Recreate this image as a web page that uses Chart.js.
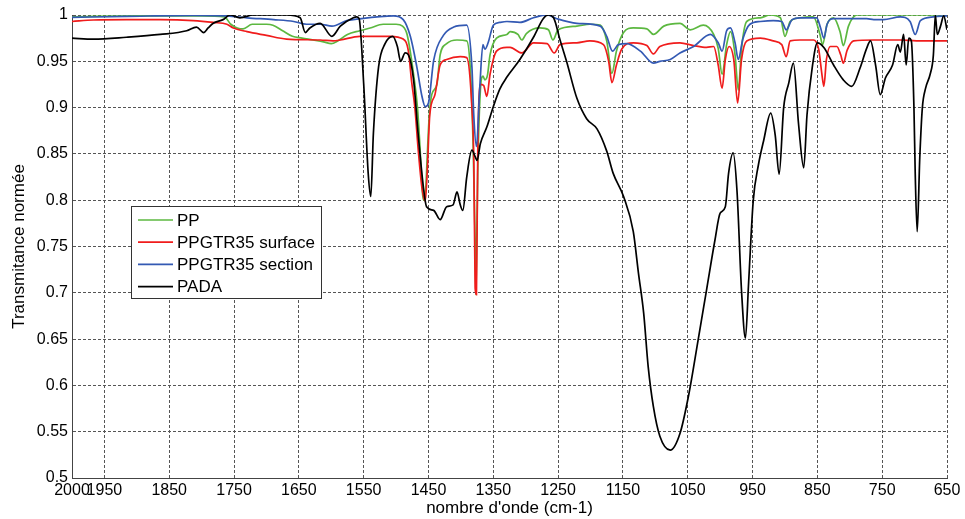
<!DOCTYPE html>
<html>
<head>
<meta charset="utf-8">
<script src="https://cdn.jsdelivr.net/npm/chart.js@4.4.1/dist/chart.umd.min.js"></script>
<style>
  html, body { margin: 0; padding: 0; background: #fff; }
</style>
</head>
<body>
<canvas id="spectre" width="965" height="519"></canvas>
<script>
// valeurs (nombre d'onde en cm-1, transmittance normee)
const ppWn = [2000,1900,1800,1765,1755,1745,1736,1722,1700,1690,1675,1660,1645,1628,1612,1600,1590,1575,1556,1540,1520,1500,1490,1483,1473,1467,1463,1459,1457,1454,1452,1449,1445,1437,1432,1422,1406,1391,1385,1381,1378,1377,1376,1374,1370,1366,1363,1359,1355,1345,1329,1324,1312,1306,1299,1278,1265,1258,1250,1221,1201,1185,1175,1167,1160,1149,1134,1113,1103,1087,1062,1046,1026,1010,1003,997,990,984,977,972,967,959,938,923,907,900,892,877,856,846,842,835,825,815,810,802,789,650];
const ppT = [0.998,0.999,0.999,0.998,0.990,0.986,0.985,0.990,0.990,0.989,0.983,0.977,0.975,0.973,0.971,0.969,0.972,0.979,0.983,0.986,0.990,0.990,0.988,0.979,0.936,0.900,0.856,0.806,0.800,0.815,0.846,0.889,0.914,0.925,0.957,0.969,0.973,0.972,0.936,0.856,0.756,0.698,0.730,0.830,0.918,0.934,0.930,0.935,0.957,0.975,0.979,0.982,0.979,0.973,0.980,0.986,0.984,0.973,0.984,0.988,0.990,0.989,0.972,0.937,0.961,0.981,0.986,0.985,0.979,0.988,0.991,0.984,0.989,0.979,0.964,0.936,0.968,0.982,0.957,0.919,0.964,0.993,0.997,1.0,0.997,0.977,0.993,0.997,0.998,0.979,0.968,0.990,0.997,0.982,0.967,0.988,1.0,1.0];

const surfWn = [2000,1967,1916,1864,1813,1782,1761,1751,1730,1700,1669,1617,1597,1586,1556,1509,1489,1481,1476,1471,1466,1460,1455,1452,1448,1440,1432,1422,1401,1391,1383,1380,1378,1376,1374,1370,1365,1360,1355,1345,1329,1324,1306,1288,1267,1256,1247,1221,1201,1180,1172,1167,1160,1152,1134,1113,1103,1093,1062,1041,1021,1010,1003,997,992,986,979,973,967,959,938,918,905,898,892,877,856,848,843,840,836,830,820,814,810,804,794,763,722,697,650];
const surfT = [0.993,0.9946,0.995,0.995,0.994,0.992,0.990,0.986,0.982,0.978,0.974,0.973,0.972,0.973,0.977,0.977,0.974,0.961,0.928,0.900,0.856,0.813,0.799,0.830,0.892,0.914,0.946,0.952,0.955,0.954,0.900,0.840,0.705,0.698,0.850,0.925,0.924,0.912,0.936,0.961,0.965,0.965,0.959,0.970,0.969,0.959,0.968,0.970,0.972,0.968,0.950,0.927,0.946,0.963,0.970,0.967,0.958,0.966,0.970,0.967,0.965,0.966,0.946,0.921,0.952,0.966,0.952,0.905,0.952,0.972,0.975,0.972,0.968,0.955,0.972,0.973,0.973,0.963,0.936,0.923,0.952,0.966,0.966,0.957,0.948,0.962,0.972,0.973,0.973,0.972,0.972];

const sectWn = [2000,1916,1813,1761,1730,1689,1658,1638,1617,1599,1576,1566,1504,1489,1478,1468,1460,1455,1450,1442,1427,1411,1391,1383,1380,1376,1371,1366,1363,1358,1350,1340,1329,1309,1288,1267,1252,1221,1185,1175,1166,1157,1144,1123,1103,1093,1077,1062,1041,1015,1003,997,990,984,977,972,965,954,938,918,905,898,889,877,851,845,840,835,825,774,763,748,722,707,699,691,671,650];
const sectT = [0.9975,0.9985,0.9996,0.999,0.997,0.995,0.993,0.990,0.990,0.988,0.994,0.995,0.999,0.995,0.977,0.944,0.912,0.901,0.905,0.951,0.978,0.987,0.989,0.944,0.890,0.858,0.920,0.968,0.963,0.970,0.989,0.992,0.993,0.992,0.997,1.0,0.996,0.991,0.988,0.977,0.961,0.968,0.969,0.961,0.948,0.950,0.952,0.959,0.966,0.979,0.970,0.961,0.983,0.986,0.970,0.952,0.974,0.990,0.993,0.994,0.993,0.984,0.995,0.997,0.997,0.986,0.975,0.990,0.996,0.996,0.995,0.995,0.998,0.993,0.979,0.994,0.998,0.999];

const padaWn = [2000,1967,1916,1864,1823,1808,1797,1790,1782,1767,1756,1741,1720,1700,1669,1648,1640,1633,1617,1599,1586,1566,1561,1557,1550,1543,1539,1535,1527,1517,1505,1498,1493,1486,1481,1473,1466,1458,1453,1442,1432,1422,1412,1406,1401,1397,1391,1383,1378,1375,1370,1360,1350,1340,1329,1309,1288,1273,1265,1257,1247,1237,1221,1206,1190,1175,1165,1149,1134,1126,1118,1111,1103,1093,1077,1062,1049,1034,1021,1008,1000,992,987,980,974,967,961,956,949,941,933,922,915,909,902,894,887,879,871,866,858,850,840,825,810,797,784,774,768,760,753,745,734,726,722,717,713,709,705,701,699,696,692,688,683,676,671,668,665,660,655,650];
const padaT = [0.975,0.974,0.976,0.979,0.983,0.987,0.981,0.986,0.991,0.995,1.0,0.997,1.0,1.0,1.0,0.997,0.981,0.986,0.991,0.977,0.988,0.997,0.998,0.996,0.926,0.829,0.804,0.872,0.944,0.969,0.977,0.966,0.950,0.959,0.957,0.930,0.872,0.815,0.793,0.789,0.779,0.793,0.795,0.809,0.795,0.789,0.825,0.854,0.847,0.843,0.861,0.879,0.901,0.920,0.933,0.952,0.976,0.996,1.0,0.997,0.973,0.950,0.910,0.888,0.877,0.853,0.829,0.804,0.766,0.721,0.678,0.620,0.577,0.545,0.530,0.548,0.588,0.649,0.703,0.757,0.786,0.793,0.829,0.851,0.810,0.702,0.651,0.712,0.799,0.838,0.864,0.894,0.870,0.828,0.900,0.927,0.948,0.882,0.835,0.892,0.943,0.970,0.965,0.946,0.930,0.923,0.943,0.964,0.972,0.945,0.914,0.932,0.946,0.968,0.960,0.979,0.946,0.975,0.972,0.900,0.828,0.766,0.846,0.900,0.921,0.936,0.957,1.0,0.979,0.988,0.999,0.984];

const xTicks = [2000,1950,1850,1750,1650,1550,1450,1350,1250,1150,1050,950,850,750,650];
const seriesNames = ['PP', 'PPGTR35 surface', 'PPGTR35 section', 'PADA'];
const seriesColors = ['#5cb840', '#f01c1c', '#3359b3', '#000000'];

function pts(wn, t) {
  return wn.map((w, i) => ({x: w, y: t[i]}));
}

const FONT = '"Liberation Sans", Arial, sans-serif';
Chart.defaults.font.family = FONT;
Chart.defaults.color = '#000';

// legende encadree dans la zone du graphe, comme sous Matlab
const boxLegend = {
  id: 'boxLegend',
  afterDraw(chart) {
    const ctx = chart.ctx;
    ctx.save();
    ctx.fillStyle = '#fff';
    ctx.fillRect(131.5, 206.5, 190, 92);
    ctx.strokeStyle = '#333';
    ctx.lineWidth = 1;
    ctx.strokeRect(131.5, 206.5, 190, 92);
    ctx.font = '17px ' + FONT;
    ctx.textBaseline = 'middle';
    seriesNames.forEach((name, i) => {
      const y = 220 + i * 22.2;
      ctx.strokeStyle = seriesColors[i];
      ctx.lineWidth = 1.7;
      ctx.beginPath();
      ctx.moveTo(138, y);
      ctx.lineTo(173, y);
      ctx.stroke();
      ctx.fillStyle = '#000';
      ctx.fillText(name, 177, y + 1);
    });
    ctx.restore();
  }
};

const allData = [pts(ppWn, ppT), pts(surfWn, surfT), pts(sectWn, sectT), pts(padaWn, padaT)];

const ctx = document.getElementById('spectre').getContext('2d');
const spectreChart = new Chart(ctx, {
  type: 'line',
  data: {
    datasets: allData.map((d, i) => ({
      label: seriesNames[i],
      data: d,
      borderColor: seriesColors[i],
      backgroundColor: seriesColors[i],
      borderWidth: 1.7,
      pointRadius: 0,
      fill: false,
      cubicInterpolationMode: 'monotone',
      order: 4 - i
    }))
  },
  options: {
    responsive: false,
    animation: false,
    devicePixelRatio: 1,
    layout: { padding: { top: 15, right: 18, left: 0, bottom: 0 } },
    plugins: {
      legend: { display: false },
      tooltip: { enabled: false }
    },
    scales: {
      x: {
        type: 'linear',
        reverse: true,
        min: 650,
        max: 2000,
        afterBuildTicks: (axis) => { axis.ticks = xTicks.map(v => ({value: v})); },
        afterFit: (scale) => { scale.height = 41; },
        ticks: {
          autoSkip: false,
          maxRotation: 0,
          minRotation: 0,
          padding: 3,
          font: { size: 16 },
          callback: (v) => String(v)
        },
        grid: { color: '#555', lineWidth: 1, drawTicks: false },
        border: { display: true, color: '#444', width: 1, dash: [3, 2] },
        title: {
          display: true,
          text: "nombre d'onde (cm-1)",
          font: { size: 17 },
          padding: { top: 0, bottom: 0 }
        }
      },
      y: {
        min: 0.5,
        max: 1,
        afterFit: (scale) => { scale.width = 72; },
        ticks: {
          stepSize: 0.05,
          padding: 4,
          font: { size: 16 },
          callback: (v) => String(+v.toFixed(2))
        },
        grid: { color: '#555', lineWidth: 1, drawTicks: false },
        border: { display: true, color: '#444', width: 1, dash: [3, 2] },
        title: {
          display: true,
          text: 'Transmitance normée',
          font: { size: 17 },
          padding: { top: 9, bottom: 0 }
        }
      }
    }
  },
  plugins: [boxLegend]
});
</script>
</body>
</html>
